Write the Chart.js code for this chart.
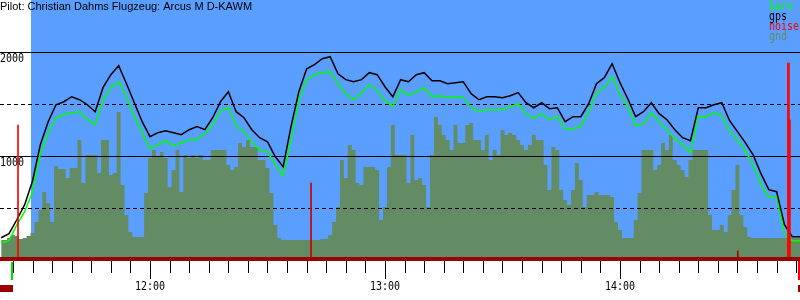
<!DOCTYPE html>
<html>
<head>
<meta charset="utf-8">
<script src="https://cdn.jsdelivr.net/npm/chart.js@4.4.1/dist/chart.umd.min.js"></script>
<style>
  html, body { margin: 0; padding: 0; background: #fff; }
  #wrap { width: 800px; height: 300px; }
</style>
</head>
<body>
<div id="wrap"><canvas id="flight" width="800" height="300"></canvas></div>
<script>
const title = 'Pilot: Christian Dahms Flugzeug: Arcus M D-KAWM';

// flight trace samples (2 min)
const times = [
  '11:22','11:24','11:26','11:28','11:30','11:32','11:34','11:36','11:38','11:40',
  '11:42','11:44','11:46','11:48','11:50','11:52','11:54','11:56','11:58','12:00',
  '12:02','12:04','12:06','12:08','12:10','12:12','12:14','12:16','12:18','12:20',
  '12:22','12:24','12:26','12:28','12:30','12:32','12:34','12:36','12:38','12:40',
  '12:42','12:44','12:46','12:48','12:50','12:52','12:54','12:56','12:58','13:00',
  '13:02','13:04','13:06','13:08','13:10','13:12','13:14','13:16','13:18','13:20',
  '13:22','13:24','13:26','13:28','13:30','13:32','13:34','13:36','13:38','13:40',
  '13:42','13:44','13:46','13:48','13:50','13:52','13:54','13:56','13:58','14:00',
  '14:02','14:04','14:06','14:08','14:10','14:12','14:14','14:16','14:18','14:20',
  '14:22','14:24','14:26','14:28','14:30','14:32','14:34','14:36','14:38','14:40',
  '14:42','14:44','14:46'
];

const gps = [
  214,253,387,532,760,1109,1330,1493,1522,1570,
  1541,1493,1426,1657,1782,1868,1695,1512,1330,1186,
  1224,1243,1224,1205,1253,1282,1253,1368,1522,1618,
  1426,1368,1253,1176,1137,993,897,1282,1618,1839,
  1878,1935,1955,1791,1734,1714,1734,1801,1782,1666,
  1570,1734,1714,1782,1801,1724,1724,1695,1705,1714,
  1599,1541,1570,1570,1561,1580,1609,1512,1464,1512,
  1455,1464,1330,1378,1378,1503,1695,1753,1887,1705,
  1551,1378,1426,1512,1407,1349,1253,1176,1147,1464,
  1464,1493,1512,1339,1234,1128,1012,830,676,657,
  339,224,224
];

const baro = [
  166,186,339,464,657,1022,1224,1368,1397,1416,
  1426,1349,1301,1541,1657,1714,1570,1378,1224,1070,
  1109,1147,1099,1128,1157,1157,1214,1301,1436,1464,
  1291,1234,1137,1061,1041,916,811,1157,1541,1734,
  1782,1801,1811,1695,1599,1541,1609,1686,1628,1532,
  1474,1637,1580,1618,1657,1570,1580,1561,1570,1561,
  1464,1426,1445,1445,1445,1474,1503,1407,1359,1407,
  1349,1378,1262,1262,1282,1426,1609,1657,1762,1589,
  1474,1291,1311,1416,1330,1253,1166,1109,1032,1378,
  1378,1416,1387,1234,1157,1051,916,724,609,609,
  243,186,186
];

// ground elevation samples (1 min)
const gndTimes = [
  '11:22','11:23','11:24','11:25','11:26','11:27','11:28','11:29','11:30','11:31',
  '11:32','11:33','11:34','11:35','11:36','11:37','11:38','11:39','11:40','11:41',
  '11:42','11:43','11:44','11:45','11:46','11:47','11:48','11:49','11:50','11:51',
  '11:52','11:53','11:54','11:55','11:56','11:57','11:58','11:59','12:00','12:01',
  '12:02','12:03','12:04','12:05','12:06','12:07','12:08','12:09','12:10','12:11',
  '12:12','12:13','12:14','12:15','12:16','12:17','12:18','12:19','12:20','12:21',
  '12:22','12:23','12:24','12:25','12:26','12:27','12:28','12:29','12:30','12:31',
  '12:32','12:33','12:34','12:35','12:36','12:37','12:38','12:39','12:40','12:41',
  '12:42','12:43','12:44','12:45','12:46','12:47','12:48','12:49','12:50','12:51',
  '12:52','12:53','12:54','12:55','12:56','12:57','12:58','12:59','13:00','13:01',
  '13:02','13:03','13:04','13:05','13:06','13:07','13:08','13:09','13:10','13:11',
  '13:12','13:13','13:14','13:15','13:16','13:17','13:18','13:19','13:20','13:21',
  '13:22','13:23','13:24','13:25','13:26','13:27','13:28','13:29','13:30','13:31',
  '13:32','13:33','13:34','13:35','13:36','13:37','13:38','13:39','13:40','13:41',
  '13:42','13:43','13:44','13:45','13:46','13:47','13:48','13:49','13:50','13:51',
  '13:52','13:53','13:54','13:55','13:56','13:57','13:58','13:59','14:00','14:01',
  '14:02','14:03','14:04','14:05','14:06','14:07','14:08','14:09','14:10','14:11',
  '14:12','14:13','14:14','14:15','14:16','14:17','14:18','14:19','14:20','14:21',
  '14:22','14:23','14:24','14:25','14:26','14:27','14:28','14:29','14:30','14:31',
  '14:32','14:33','14:34','14:35','14:36','14:37','14:38','14:39','14:40','14:41',
  '14:42','14:43','14:44','14:45','14:46'
];

const gnd = [
  192,192,212,240,231,202,212,231,260,365,
  481,654,548,365,904,875,875,788,885,885,
  1154,740,1010,1010,1010,837,1154,1154,817,837,
  1423,721,433,269,221,221,221,644,981,1058,
  990,1038,981,702,865,1058,654,1010,981,1010,
  981,1010,962,962,1058,1058,1058,1058,913,865,
  894,1125,1087,1154,1087,1087,962,962,885,644,
  337,212,192,192,192,192,192,192,192,192,
  192,192,202,202,240,365,510,962,788,1106,
  1058,740,721,894,894,894,865,385,510,894,
  1298,1010,1010,1010,740,1202,769,788,721,510,
  1010,1375,1298,1202,1154,1058,1298,1125,1125,1298,
  1317,1154,1154,1058,1202,962,1058,1010,1250,1202,
  1221,1202,1154,1106,1058,1106,1202,1154,1154,913,
  673,1087,1058,673,577,529,673,933,769,510,
  625,625,654,625,625,625,606,365,288,212,
  212,212,385,644,1058,1058,1058,865,913,1125,
  1058,1202,962,913,865,798,962,1058,1058,1058,
  1058,433,288,288,337,269,433,673,913,433,
  317,221,212,212,212,212,212,212,212,212,
  212,212,212,212,212
];

const noiseTimes = ['11:26:18','12:41:07','14:30:05','14:42:53','14:43:09','14:43:24'];
const noise = [1298, 740, 87, 1894, 1894, 1346];
const noiseColors = ['#ff0000','#cc0000','#aa0000','#ff0000','#ff0000','#ff0000'];

const hourLabels = ['12:00','13:00','14:00'];
const altLines = [2000, 1000];
const altDashed = [1500, 500];

const axisStart = '11:21:42';
const axisEnd = '14:45:58';
const skyStart = '11:29:37';
const takeoff = '11:24:46';
const landing = '14:45:45';

const SKY = '#5a9eff';
const GROUND = '#648c64';
const DARK_RED = '#990000';

const toMin = s => {
  const p = s.split(':').map(Number);
  return p[0] * 60 + p[1] + (p[2] || 0) / 60;
};
const series = (ts, vals) => vals.map((v, i) => ({ x: toMin(ts[i]), y: v }));

// draw narrow, tall mono text like the old bitmap font
function monoText(ctx, text, x, y, align) {
  ctx.save();
  ctx.font = '10px "DejaVu Sans Mono"';
  ctx.textAlign = align || 'left';
  ctx.textBaseline = 'alphabetic';
  ctx.translate(x, y);
  ctx.scale(1, 1.2);
  ctx.fillText(text, 0, 0);
  ctx.restore();
}

const flightPlugin = {
  id: 'flight',
  beforeDatasetsDraw(chart) {
    const { ctx, chartArea, scales } = chart;
    const left = scales.x.getPixelForValue(toMin(skyStart));
    ctx.save();
    ctx.fillStyle = SKY;
    ctx.fillRect(left, chartArea.top, chartArea.right - left, chartArea.bottom - chartArea.top);
    ctx.restore();
  },
  afterDatasetDraw(chart, args) {
    if (args.index !== 3) return;
    // grid lines sit over the ground but under the traces
    const { ctx, chartArea, scales } = chart;
    ctx.save();
    ctx.strokeStyle = '#000';
    ctx.lineWidth = 1;
    altLines.forEach(v => {
      const y = Math.round(scales.y.getPixelForValue(v)) + 0.5;
      ctx.beginPath();
      ctx.moveTo(chartArea.left, y);
      ctx.lineTo(chartArea.right, y);
      ctx.stroke();
    });
    ctx.setLineDash([4, 3]);
    altDashed.forEach(v => {
      const y = Math.round(scales.y.getPixelForValue(v)) + 0.5;
      ctx.beginPath();
      ctx.moveTo(chartArea.left, y);
      ctx.lineTo(chartArea.right, y);
      ctx.stroke();
    });
    ctx.restore();
  },
  afterDraw(chart) {
    const { ctx, scales } = chart;
    const x = scales.x, y = scales.y;
    ctx.save();

    // y labels
    ctx.fillStyle = '#000';
    altLines.forEach(v => monoText(ctx, String(v), 0, Math.round(y.getPixelForValue(v)) + 10));

    // time axis band
    ctx.fillStyle = DARK_RED;
    ctx.fillRect(0, 257, 800, 4);

    ctx.strokeStyle = '#000';
    ctx.lineWidth = 1;
    for (let m = 685; m <= 885; m += 5) {
      const px = Math.round(x.getPixelForValue(m)) + 0.5;
      ctx.beginPath();
      ctx.moveTo(px, 261);
      ctx.lineTo(px, m % 60 === 0 ? 279 : 273);
      ctx.stroke();
    }
    ctx.fillStyle = '#000';
    hourLabels.forEach(h => {
      monoText(ctx, h, Math.round(x.getPixelForValue(toMin(h))), 290, 'center');
    });

    // takeoff / landing marks
    const tx = Math.round(x.getPixelForValue(toMin(takeoff)));
    ctx.fillStyle = '#00dd00';
    ctx.fillRect(tx - 1, 262, 2, 18);
    ctx.fillStyle = DARK_RED;
    ctx.fillRect(0, 285, tx + 1, 7);
    const lx = Math.round(x.getPixelForValue(toMin(landing)));
    ctx.fillStyle = '#ff0000';
    ctx.fillRect(lx - 1, 261, 2, 19);
    ctx.fillStyle = DARK_RED;
    ctx.fillRect(lx - 1, 285, 2, 7);

    // title
    ctx.fillStyle = '#000';
    ctx.font = '11px "Liberation Sans"';
    ctx.textAlign = 'left';
    ctx.textBaseline = 'alphabetic';
    ctx.fillText(title, 0, 10);

    // legend
    const legend = [['baro', '#00ff00'], ['gps', '#000000'], ['noise', '#ff0000'], ['gnd', GROUND]];
    legend.forEach((l, i) => {
      ctx.fillStyle = l[1];
      monoText(ctx, l[0], 769, 10 + i * 10);
    });
    ctx.restore();
  }
};

new Chart(document.getElementById('flight'), {
  type: 'line',
  data: {
    datasets: [
      {
        label: 'noise',
        type: 'bar',
        data: noiseTimes.map((t, i) => ({ x: toMin(t), y: noise[i] })),
        backgroundColor: noiseColors,
        barThickness: 1,
        borderWidth: 0
      },
      {
        label: 'gps',
        data: series(times, gps),
        borderColor: '#000000',
        borderWidth: 1.5,
        pointRadius: 0,
        tension: 0,
        fill: false
      },
      {
        label: 'baro',
        data: series(times, baro),
        borderColor: '#00ff00',
        borderWidth: 1.5,
        pointRadius: 0,
        tension: 0,
        fill: false
      },
      {
        label: 'gnd',
        data: series(gndTimes, gnd),
        stepped: 'middle',
        borderWidth: 0,
        borderColor: GROUND,
        backgroundColor: GROUND,
        pointRadius: 0,
        fill: 'start'
      }
    ]
  },
  options: {
    responsive: false,
    animation: false,
    layout: { padding: { left: 0, right: 0, top: 0, bottom: 40 } },
    scales: {
      x: { type: 'linear', offset: false, min: toMin(axisStart), max: toMin(axisEnd), display: false },
      y: { min: 0, max: 2500, display: false }
    },
    plugins: {
      legend: { display: false },
      tooltip: { enabled: false }
    }
  },
  plugins: [flightPlugin]
});
</script>
</body>
</html>
